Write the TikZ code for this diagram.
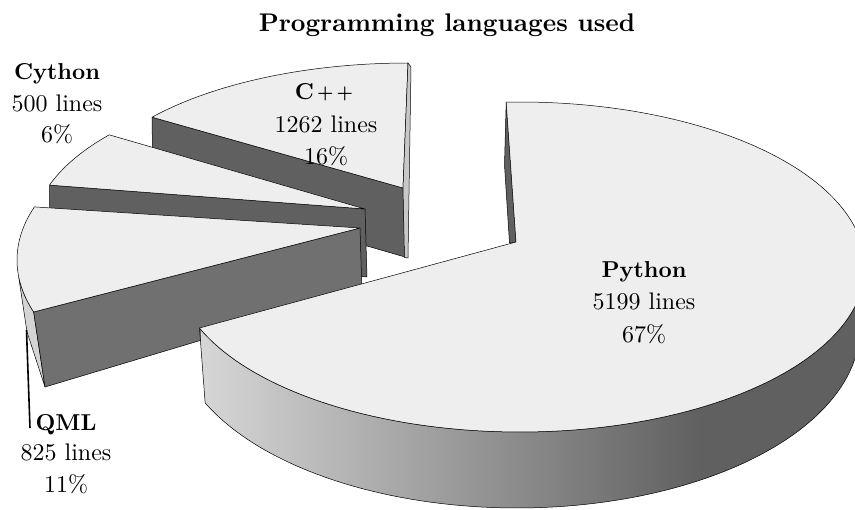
\documentclass[tikz,border=0pt]{standalone}
\usepackage{fontspec}
\usepackage{graphicx}
\setmainfont{lmroman10-regular.otf}[BoldFont=lmroman10-bold.otf]
\definecolor{topface}{RGB}{238,238,238}
\definecolor{cutdark}{RGB}{96,96,96}
\definecolor{cutmid}{RGB}{112,112,112}
\definecolor{rimlight}{RGB}{212,212,212}
\definecolor{striplight}{RGB}{200,200,200}
\definecolor{sidestart}{RGB}{214,214,214}
\definecolor{sideend}{RGB}{96,96,96}
\begin{document}
\begin{tikzpicture}[x=1pt,y=-1pt,
  edge/.style={draw=black, line width=0.5pt, line join=round},
  topsurf/.style={edge, fill=topface},
  cutsurf/.style={edge, fill=cutdark},
  cutsurfmid/.style={edge, fill=cutmid},
  rimsurf/.style={edge, fill=rimlight},
  stripsurf/.style={edge, fill=striplight},
  plain/.style={anchor=base, inner sep=0pt, font=\fontsize{24}{30}\selectfont},
  heading/.style={anchor=base, inner sep=0pt, font=\fontsize{23}{28}\selectfont\bfseries},
  titletext/.style={anchor=base, inner sep=0pt, font=\fontsize{25.5}{30}\selectfont\bfseries},
  leader/.style={draw=black, line width=1.6pt}]
\clip (0,0) rectangle (855,510);

% apex points of the slices
\coordinate (cppA) at (403,188);
\coordinate (cyA) at (365,209);
\coordinate (qmlA) at (360,228);
\coordinate (pyA) at (516,242);

% ---- C++ slice (pulled back) ----
\path[cutsurf] (152,117.2) -- (cppA) -- (405,257) -- (153,184) -- cycle;
\path[topsurf] (cppA) -- plot[domain=90:140.66, samples=40, variable=\t]
  ({408+331*cos(\t)},{211-148*sin(\t)}) -- cycle;
\path[stripsurf] (408,63) -- (411,67) -- (408,258) -- (404.5,257.5) -- (cppA) -- cycle;

% ---- Cython slice ----
\path[cutsurf] (49.5,185.1) -- (cyA) -- (367,277) -- (50,245) -- cycle;
\path[topsurf] (cyA) -- plot[domain=140.7:162, samples=30, variable=\t]
  ({370+337*cos(\t)},{233-155*sin(\t)}) -- cycle;

% ---- QML slice ----
\path[rimsurf] (18.7,276.9) -- plot[domain=185.7:197.8, samples=20, variable=\t]
  ({365+348*cos(\t)},{260-170*sin(\t)}) -- (45,387) -- (27,332) -- cycle;
\path[cutsurfmid] (33.7,312) -- (qmlA) -- (362,292) -- (45,387) -- cycle;
\path[topsurf] (qmlA) -- plot[domain=161.8:197.8, samples=40, variable=\t]
  ({365+348*cos(\t)},{260-170*sin(\t)}) -- cycle;

% ---- Python slice ----
\path[cutsurf] (506.2,102.1) -- (pyA) -- (509.5,243) -- (504.5,165) -- cycle;
\begin{scope}
  \clip plot[domain=-158.3:0, samples=90, variable=\t]
    ({520+345*cos(\t)},{267-165*sin(\t)})
    -- plot[domain=0:155.4, samples=90, variable=\s]
    ({517+343*cos(-\s)},{328-180*sin(-\s)}) -- cycle;
  \shade[left color=sidestart, right color=sideend] (201,220) rectangle (700,520);
  \fill[sideend] (699,220) rectangle (880,520);
\end{scope}
\path[edge] plot[domain=-158.3:0, samples=90, variable=\t]
    ({520+345*cos(\t)},{267-165*sin(\t)})
    -- plot[domain=0:155.4, samples=90, variable=\s]
    ({517+343*cos(-\s)},{328-180*sin(-\s)}) -- cycle;
\path[topsurf] (pyA) -- plot[domain=0:250.6, samples=160, variable=\s]
  ({520+345*cos(92.3-\s)},{267-165*sin(92.3-\s)}) -- cycle;

% ---- labels ----
\node[titletext] (title) at (447,32) {Programming languages used};

\node[heading] (pyName) at (644,278) {Python};
\node[plain] (pyLines) at (644,310) {5199 lines};
\node[plain] (pyPct) at (644,342.5) {67\%};

\node[heading] (cppName) at (324,100)
  {C\kern3pt\raisebox{1pt}{\scalebox{0.8}{+}}\kern3pt\raisebox{1pt}{\scalebox{0.8}{+}}};
\node[plain] (cppLines) at (326,133) {1262 lines};
\node[plain] (cppPct) at (326,165) {16\%};

\node[heading] (cyName) at (57,80) {Cython};
\node[plain] (cyLines) at (57,111.5) {500 lines};
\node[plain] (cyPct) at (57,142.5) {6\%};

\node[heading] (qmlName) at (66,431) {QML};
\node[plain] (qmlLines) at (66,461) {825 lines};
\node[plain] (qmlPct) at (66,493) {11\%};

\coordinate (qmlTip) at (26.5,330);
\coordinate (qmlFoot) at (30,428);
\path[leader] (qmlTip) -- (qmlFoot);
\end{tikzpicture}
\end{document}
